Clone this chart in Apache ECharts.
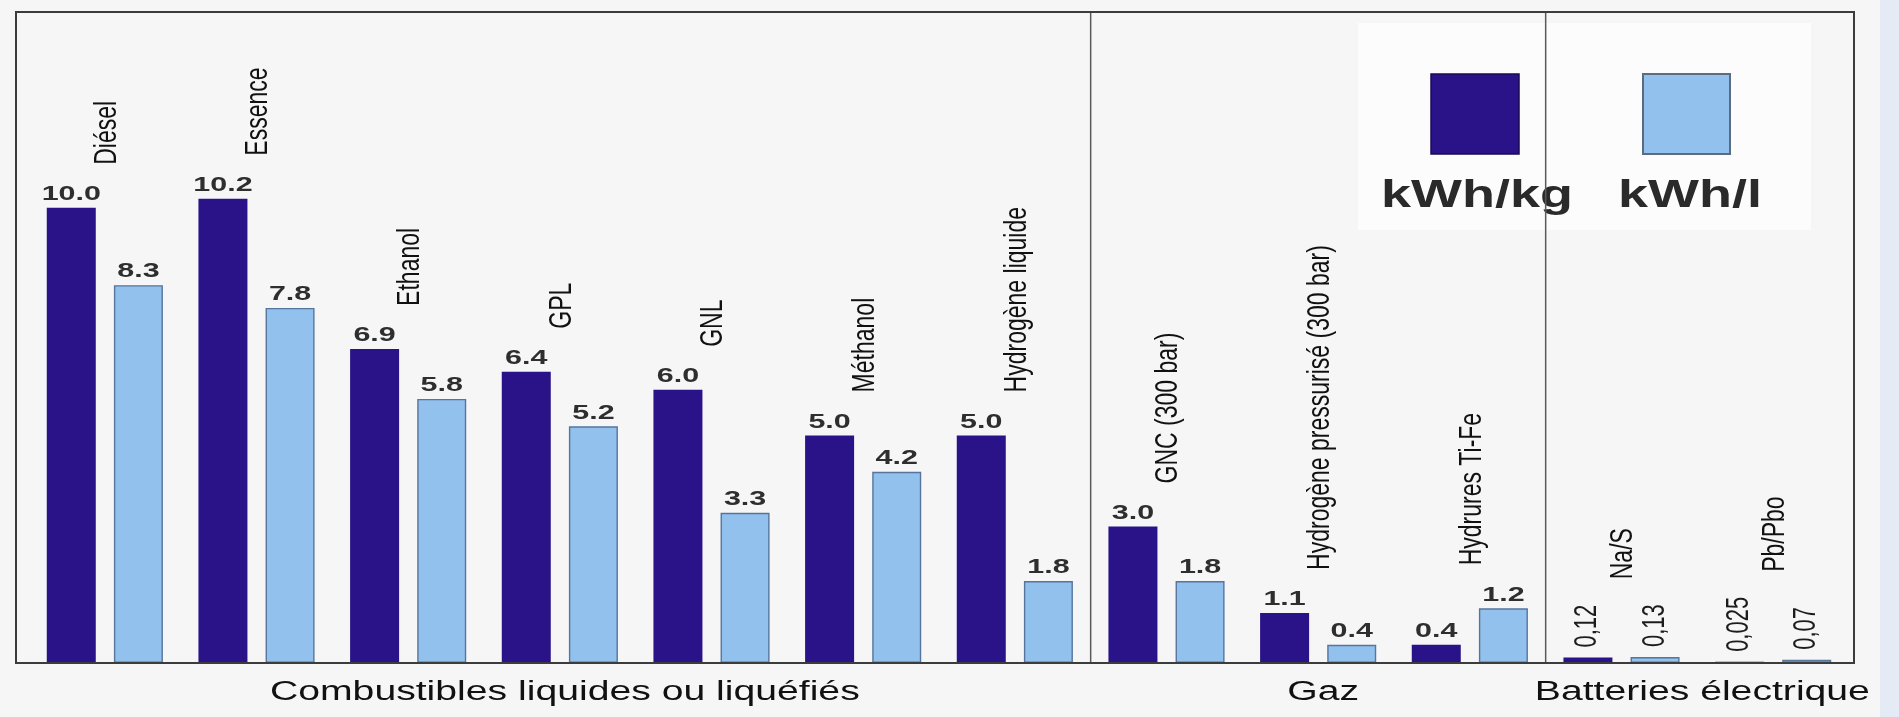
<!DOCTYPE html>
<html>
<head>
<meta charset="utf-8">
<script src="https://cdn.jsdelivr.net/npm/echarts@6/dist/echarts.min.js"></script>
<style>
html,body{margin:0;padding:0;background:#f6f6f6;}
#chart{width:1899px;height:717px;}
</style>
</head>
<body>
<div id="chart"></div>
<script>
// ---------------- data ----------------
const categories = ['Diésel', 'Essence', 'Ethanol', 'GPL', 'GNL', 'Méthanol', 'Hydrogène liquide',
  'GNC (300 bar)', 'Hydrogène pressurisé (300 bar)', 'Hydrures Ti-Fe', 'Na/S', 'Pb/Pbo'];
const kwhPerKg = [10.0, 10.2, 6.9, 6.4, 6.0, 5.0, 5.0, 3.0, 1.1, 0.4, 0.12, 0.025];
const kwhPerL  = [8.3, 7.8, 5.8, 5.2, 3.3, 4.2, 1.8, 1.8, 0.4, 1.2, 0.13, 0.07];
const seriesNames = ['kWh/kg', 'kWh/l'];
const groupNames = ['Combustibles liquides ou liquéfiés', 'Gaz', 'Batteries électrique'];
const groupFirst = [0, 7, 10];
const groupLast  = [6, 9, 11];
const batteryGroup = 2;

// ---------------- style ----------------
const FONT = '"Liberation Sans", Arial, Helvetica, sans-serif';
const DARK = '#2a1289';
const LIGHT = '#92c1ed';
const LIGHT_BORDER = '#55759c';
const BAR_W = 49;
const BAR_GAP_RATIO = 0.37;
const HALF = (BAR_W + BAR_W * BAR_GAP_RATIO) / 2;

const mctx = document.createElement('canvas').getContext('2d');
function textLen(t, size, weight) {
  mctx.font = (weight || 'normal') + ' ' + size + 'px ' + FONT;
  return mctx.measureText(t).width;
}
function groupOf(i) {
  for (let g = 0; g < groupFirst.length; g++) if (i >= groupFirst[g] && i <= groupLast[g]) return g;
  return 0;
}
function fmt(v, battery) {
  return battery ? String(v).replace('.', ',') : v.toFixed(1);
}

const chart = echarts.init(document.getElementById('chart'), null, {renderer: 'canvas'});

const option = {
  backgroundColor: '#f6f6f6',
  animation: false,
  grid: {left: 29, right: 50, top: 12, bottom: 54, containLabel: false},
  xAxis: {type: 'category', data: categories, show: false},
  yAxis: {type: 'value', min: 0, max: 14.3, show: false},
  legend: {show: false, data: seriesNames},
  series: [
    {
      name: seriesNames[0], type: 'bar', data: kwhPerKg,
      barWidth: BAR_W, barGap: (BAR_GAP_RATIO * 100) + '%',
      itemStyle: {color: DARK}
    },
    {
      name: seriesNames[1], type: 'bar', data: kwhPerL,
      barWidth: BAR_W, barGap: (BAR_GAP_RATIO * 100) + '%',
      itemStyle: {color: LIGHT, borderColor: LIGHT_BORDER, borderWidth: 1.4}
    },
    {
      // value labels and rotated category names
      type: 'custom', z: 5, silent: true,
      data: categories.map((c, i) => [i, kwhPerKg[i], kwhPerL[i]]),
      renderItem: function (params, api) {
        const i = api.value(0);
        const vals = [api.value(1), api.value(2)];
        const base = api.coord([i, 0]);
        const cx = base[0];
        const battery = groupOf(i) === batteryGroup;
        const children = [];
        const tops = [];
        for (let k = 0; k < 2; k++) {
          const bx = cx + (k === 0 ? -HALF : HALF);
          const by = api.coord([i, vals[k]])[1];
          const txt = fmt(vals[k], battery);
          if (battery) {
            children.push({
              type: 'text', x: bx, y: by - 10, rotation: Math.PI / 2, scaleY: 1.4,
              style: {text: txt, fontSize: 22, fontFamily: FONT, fill: '#1c1c1c', align: 'left', verticalAlign: 'middle'}
            });
            tops.push(by - 10 - textLen(txt, 22));
          } else {
            children.push({
              type: 'text', x: bx, y: by - 3, scaleX: 1.45,
              style: {text: txt, fontSize: 21, fontWeight: 'bold', fontFamily: FONT, fill: '#2e2e2e', align: 'center', verticalAlign: 'bottom'}
            });
            tops.push(by - 22);
          }
        }
        const catBottom = Math.min.apply(null, tops) - (battery ? 25 : 21);
        children.push({
          type: 'text', x: cx + 2, y: catBottom, rotation: Math.PI / 2, scaleY: 1.4,
          style: {text: categories[i], fontSize: 23, fontFamily: FONT, fill: '#111', align: 'left', verticalAlign: 'middle'}
        });
        return {type: 'group', children: children};
      }
    },
    {
      // group names under the axis and dividers between groups
      type: 'custom', z: 4, silent: true,
      encode: {x: [0, 1]},
      data: groupNames.map((g, j) => [groupFirst[j], groupLast[j], j]),
      renderItem: function (params, api) {
        const j = api.value(2);
        const a = api.coord([api.value(0), 0]);
        const b = api.coord([api.value(1), 0]);
        const cs = params.coordSys;
        const band = api.size([1, 0])[0];
        const children = [{
          type: 'text', x: (a[0] + b[0]) / 2 + 5, y: a[1] + 30, scaleX: 1.45,
          style: {text: groupNames[j], fontSize: 27, fontFamily: FONT, fill: '#111', align: 'center', verticalAlign: 'middle'}
        }];
        if (j < groupNames.length - 1) {
          const dx = b[0] + band / 2;
          children.push({
            type: 'line', shape: {x1: dx, y1: cs.y, x2: dx, y2: a[1]},
            style: {stroke: '#5a5a5a', lineWidth: 1.5}
          });
        }
        return {type: 'group', children: children};
      }
    }
  ],
  graphic: [
    {type: 'rect', z: 1, shape: {x: 1880, y: 0, width: 19, height: 717}, style: {fill: '#e4ebf4'}},
    {type: 'rect', z: 50, shape: {x: 16, y: 12, width: 1838, height: 651}, style: {fill: 'none', stroke: '#3c3c3c', lineWidth: 2}},
    {
      type: 'group', z: 60, children: [
        {type: 'rect', shape: {x: 1358, y: 23, width: 453, height: 207}, style: {fill: '#fcfcfc'}},
        {type: 'rect', shape: {x: 1431, y: 74, width: 88, height: 80}, style: {fill: DARK, stroke: '#1b0a55', lineWidth: 1.5}},
        {type: 'rect', shape: {x: 1643, y: 74, width: 87, height: 80}, style: {fill: LIGHT, stroke: '#5b6b80', lineWidth: 2}},
        {type: 'text', x: 1477, y: 197, scaleX: 1.42,
          style: {text: seriesNames[0], fontSize: 38, fontWeight: 'bold', fontFamily: FONT, fill: '#2a2a2a', align: 'center', verticalAlign: 'middle'}},
        {type: 'text', x: 1690, y: 197, scaleX: 1.42,
          style: {text: seriesNames[1], fontSize: 38, fontWeight: 'bold', fontFamily: FONT, fill: '#2a2a2a', align: 'center', verticalAlign: 'middle'}}
      ]
    }
  ]
};
chart.setOption(option);
</script>
</body>
</html>
